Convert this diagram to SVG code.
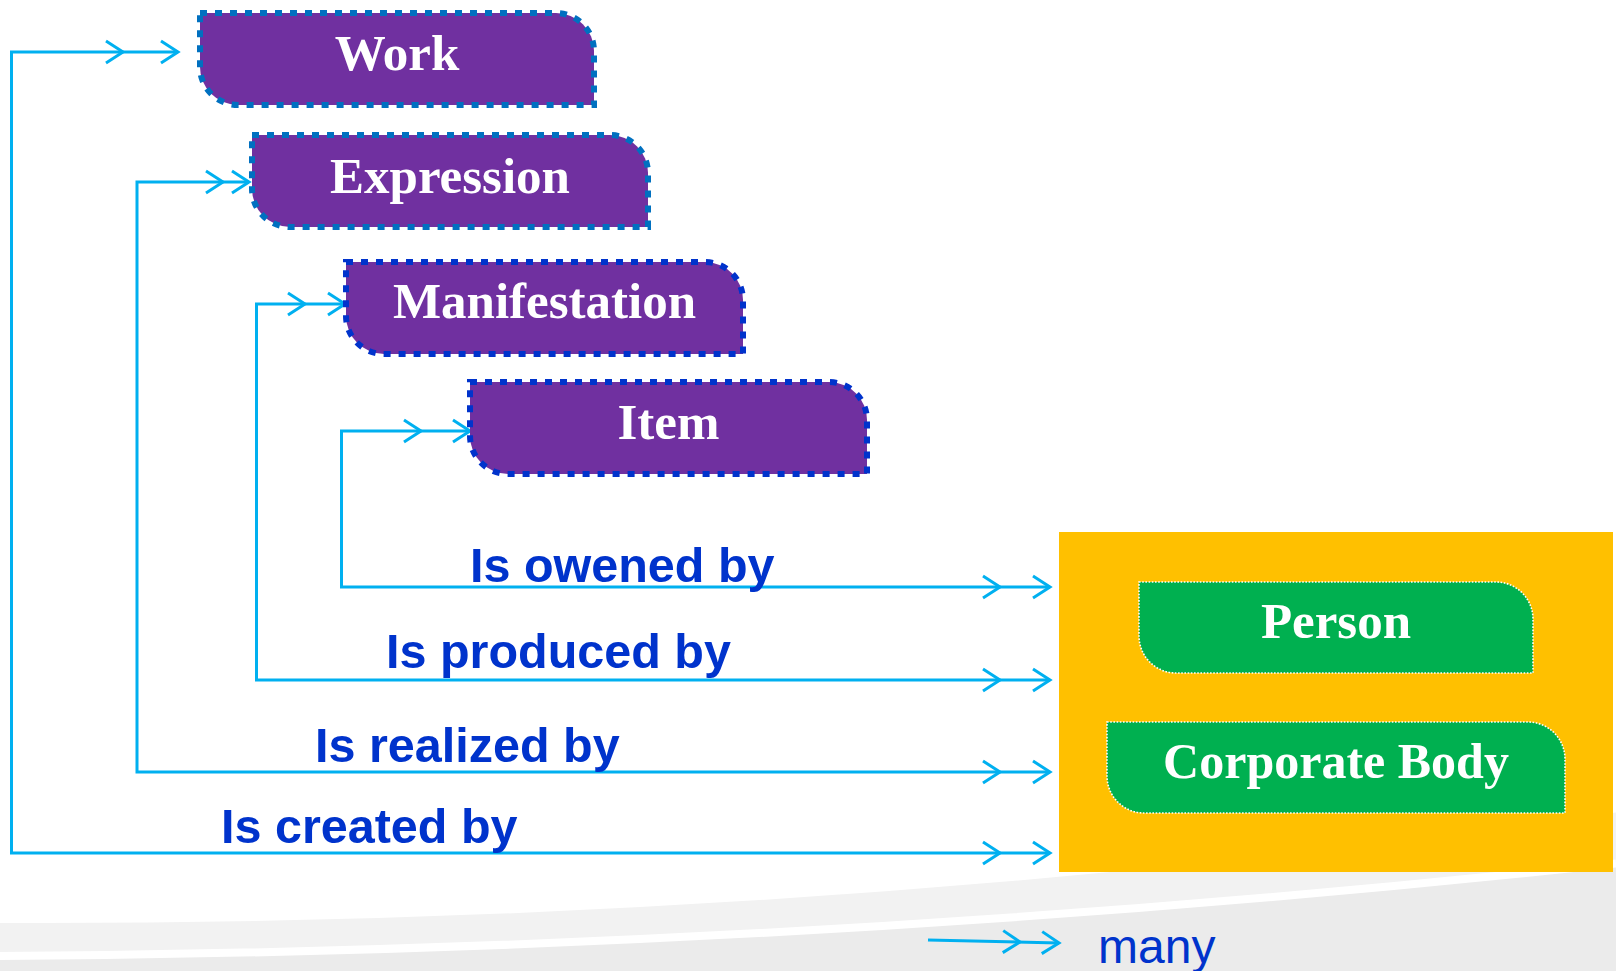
<svg xmlns="http://www.w3.org/2000/svg" xmlns:xlink="http://www.w3.org/1999/xlink" width="1616" height="971" viewBox="0 0 1616 971">
<style>
.conn{fill:none;stroke:#00B0F0;stroke-width:3;stroke-linejoin:miter}
.frbr{fill:#7030A0;stroke-width:6;stroke-dasharray:7 8}
.b1{stroke:#0070C0}
.b2{stroke:#0033CC}
.agent{fill:#00B050;stroke:#FFFFFF;stroke-width:1.6;stroke-dasharray:1.6 1.6}
.ntext{font-family:"Liberation Serif","Times New Roman",serif;font-weight:bold;font-size:51px;fill:#FFFFFF;text-anchor:middle}
.rel{font-family:"Liberation Sans",Arial,sans-serif;font-weight:bold;font-size:48.5px;fill:#0033CC}
.legend{font-family:"Liberation Sans",Arial,sans-serif;font-size:48px;fill:#0033CC}
</style>
<defs>
<path id="chev" d="M-17,-11 L0,0 L-17,11" fill="none"/>
</defs>
<rect x="0" y="0" width="1616" height="971" fill="#FFFFFF"/>
<g id="background">
<path d="M0,923 Q808,926 1616,812.6 V971 H0 Z" fill="#F2F2F2"/>
<path d="M0,956 Q808,951 1616,863.5 V971 H0 Z" fill="#EBEBEB"/>
<path d="M0,956 Q808,951 1616,863.5" fill="none" stroke="#FFFFFF" stroke-width="8"/>
</g>
<g id="connectors">
<path class="conn" d="M178,52 H11.5 V853 H1050"/>
<use class="conn" xlink:href="#chev" x="123" y="52"/>
<use class="conn" xlink:href="#chev" x="178" y="52"/>
<use class="conn" xlink:href="#chev" x="1000" y="853"/>
<use class="conn" xlink:href="#chev" x="1050" y="853"/>
<path class="conn" d="M249,182 H137 V772 H1050"/>
<use class="conn" xlink:href="#chev" x="223" y="182"/>
<use class="conn" xlink:href="#chev" x="249" y="182"/>
<use class="conn" xlink:href="#chev" x="1000" y="772"/>
<use class="conn" xlink:href="#chev" x="1050" y="772"/>
<path class="conn" d="M345,304 H256.5 V680 H1050"/>
<use class="conn" xlink:href="#chev" x="305" y="304"/>
<use class="conn" xlink:href="#chev" x="345" y="304"/>
<use class="conn" xlink:href="#chev" x="1000" y="680"/>
<use class="conn" xlink:href="#chev" x="1050" y="680"/>
<path class="conn" d="M470,431 H341.5 V587 H1050"/>
<use class="conn" xlink:href="#chev" x="421" y="431"/>
<use class="conn" xlink:href="#chev" x="470" y="431"/>
<use class="conn" xlink:href="#chev" x="1000" y="587"/>
<use class="conn" xlink:href="#chev" x="1050" y="587"/>
</g>
<g id="labels">
<text class="rel" x="470" y="582">Is owened by</text>
<text class="rel" x="386" y="668">Is produced by</text>
<text class="rel" x="315" y="762">Is realized by</text>
<text class="rel" x="221" y="843">Is created by</text>
</g>
<g id="work">
<path class="frbr b1" d="M200,13 H556 A38 38 0 0 1 594,51 V105 H238 A38 38 0 0 1 200,67 Z"/>
<text class="ntext" x="397" y="70">Work</text>
</g>
<g id="expression">
<path class="frbr b1" d="M252,135 H610 A38 38 0 0 1 648,173 V227 H290 A38 38 0 0 1 252,189 Z"/>
<text class="ntext" x="450" y="193">Expression</text>
</g>
<g id="manifestation">
<path class="frbr b2" d="M346,262 H705 A38 38 0 0 1 743,300 V354 H384 A38 38 0 0 1 346,316 Z"/>
<text class="ntext" x="544.5" y="318">Manifestation</text>
</g>
<g id="item">
<path class="frbr b2" d="M470,382 H829 A38 38 0 0 1 867,420 V474 H508 A38 38 0 0 1 470,436 Z"/>
<text class="ntext" x="668.5" y="439">Item</text>
</g>
<g id="agents">
<rect x="1059" y="532" width="554" height="340" fill="#FFC000"/>
</g>
<g id="person">
<path class="agent" d="M1139,582 H1496 A37 37 0 0 1 1533,619 V673 H1176 A37 37 0 0 1 1139,636 Z"/>
<text class="ntext" x="1336" y="638">Person</text>
</g>
<g id="corporate-body">
<path class="agent" d="M1107,722 H1528 A37 37 0 0 1 1565,759 V813 H1144 A37 37 0 0 1 1107,776 Z"/>
<text class="ntext" x="1336" y="778" style="font-size:50px">Corporate Body</text>
</g>
<g id="legend">
<path class="conn" d="M928,940 L1059,943"/>
<use class="conn" xlink:href="#chev" transform="translate(1020,942) rotate(1.3)"/>
<use class="conn" xlink:href="#chev" transform="translate(1059,943) rotate(1.3)"/>
<text class="legend" x="1098" y="963">many</text>
</g>
</svg>
